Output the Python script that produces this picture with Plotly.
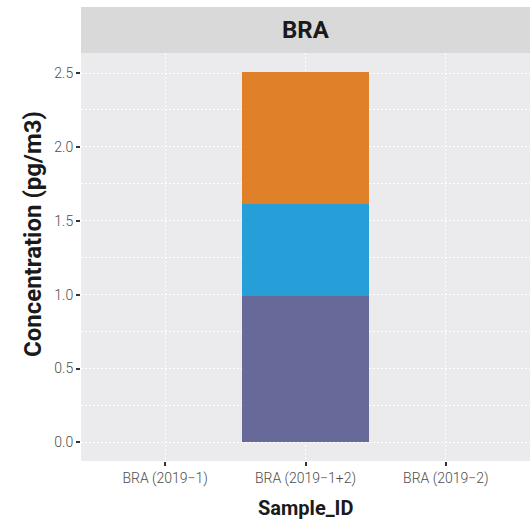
import plotly.graph_objects as go

# Sample categories and stacked component concentrations (pg/m3)
samples = ["BRA (2019\u22121)", "BRA (2019\u22121+2)", "BRA (2019\u22122)"]
component_names = ["Component 1", "Component 2", "Component 3"]
component_values = [
    [None, 0.99, None],
    [None, 0.625, None],
    [None, 0.895, None],
]
component_colors = ["#676A99", "#269FD8", "#E0812A"]
y_ticks = [0.0, 0.5, 1.0, 1.5, 2.0, 2.5]
y_tick_labels = ["0.0", "0.5", "1.0", "1.5", "2.0", "2.5"]
panel_title = "BRA"
x_title = "Sample_ID"
y_title = "Concentration (pg/m3)"

W, H = 530, 521
m_l, m_r, m_t, m_b = 81, 0, 53, 60
dots = "1.5px,2.5px"

fig = go.Figure()
for name, vals, col in zip(component_names, component_values, component_colors):
    fig.add_trace(go.Bar(
        x=samples, y=vals, name=name, marker=dict(color=col, line=dict(width=0)),
        width=0.9, showlegend=False,
    ))

total = max(sum(v[i] or 0 for v in component_values) for i in range(len(samples)))
pad = total * 0.05

tick_font = dict(family="Roboto", size=14, color="#4D4D4D", weight=300)

fig.update_layout(
    width=W, height=H,
    margin=dict(l=m_l, r=m_r, t=m_t, b=m_b),
    barmode="stack",
    paper_bgcolor="white",
    plot_bgcolor="#EBEAEC",
    font=dict(family="Roboto", color="#4D4D4D", size=13),
    showlegend=False,
    xaxis=dict(
        type="category", categoryorder="array", categoryarray=samples,
        range=[-0.6, len(samples) - 0.4],
        showgrid=True, gridcolor="white", griddash=dots, gridwidth=1,
        ticks="outside", ticklen=4, tickcolor="#333333", tickwidth=1.5,
        tickfont=tick_font,
        showline=False, zeroline=False, fixedrange=True,
    ),
    yaxis=dict(
        range=[-pad, total + pad],
        tickvals=y_ticks, ticktext=y_tick_labels,
        showgrid=True, gridcolor="white", griddash=dots, gridwidth=1,
        minor=dict(dtick=0.25, showgrid=True, gridcolor="white", griddash=dots, gridwidth=0.8),
        ticks="outside", ticklen=4, tickcolor="#333333", tickwidth=1.5,
        tickfont=tick_font,
        showline=False, zeroline=False, fixedrange=True,
    ),
)

# Facet strip above the panel
plot_h = H - m_t - m_b
strip_h = 46
fig.add_shape(
    type="rect", xref="paper", yref="paper",
    x0=0, x1=1, y0=1, y1=1 + strip_h / plot_h,
    fillcolor="#D9D9D9", line=dict(width=0), layer="below",
)
fig.add_annotation(
    text=f"<b>{panel_title}</b>", xref="paper", yref="paper",
    x=0.5, y=1 + strip_h / (2 * plot_h), showarrow=False,
    xanchor="center", yanchor="middle",
    font=dict(family="Roboto", size=24, color="#1A1A1A"),
)

# Axis titles
fig.add_annotation(
    text=f"<b>{x_title}</b>", xref="paper", yref="paper",
    x=0.5, y=-(508 - (H - m_b)) / plot_h, showarrow=False,
    xanchor="center", yanchor="middle",
    font=dict(family="Roboto", size=20, color="#1A1A1A"),
)
fig.add_annotation(
    text=f"<b>{y_title}</b>", xref="paper", yref="paper",
    x=-(m_l - 33) / (W - m_l - m_r), y=1 - (234 - m_t) / plot_h, showarrow=False,
    xanchor="center", yanchor="middle", textangle=-90,
    font=dict(family="Roboto", size=24, color="#1A1A1A"),
)

fig.write_html("out.html")
